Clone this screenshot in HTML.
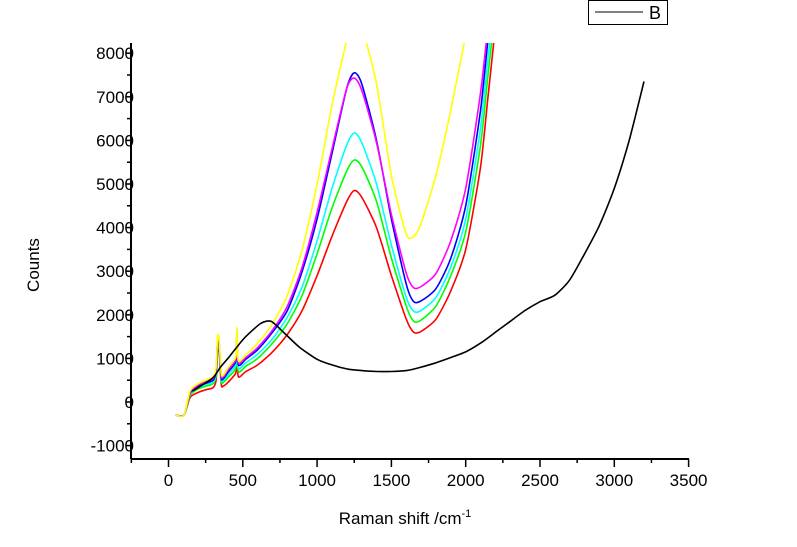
<!DOCTYPE html>
<html><head><meta charset="utf-8"><style>
body{margin:0;background:#fff}
svg{display:block;font-family:"Liberation Sans",Arial,sans-serif}
</style></head><body>
<svg id="chart" width="797" height="547" viewBox="0 0 797 547" xmlns="http://www.w3.org/2000/svg">
<defs><clipPath id="plotclip"><rect x="131" y="43" width="558" height="416"/></clipPath></defs>
<g id="series" clip-path="url(#plotclip)"></g>
<g id="axes"></g>
<text x="39" y="265" font-size="17" text-anchor="middle" transform="rotate(-90 39 265)">Counts</text>
<text x="405" y="524" font-size="17" text-anchor="middle">Raman shift /cm<tspan dy="-7" font-size="11">-1</tspan></text>
<g>
<rect x="588.5" y="0.5" width="79" height="24" fill="#fff" stroke="#000"/>
<line x1="595" y1="12" x2="643" y2="12" stroke="#000"/>
<text x="649" y="19" font-size="18">B</text>
</g>
</svg>
<script>
const xGrid=[50,105,145,200,250,300,320,330,340,355,370,400,440,455,460,470,520,600,700,800,900,1000,1100,1200,1250,1300,1400,1500,1600,1650,1700,1800,1900,2000,2100,2150,2200];
const redY=[-300,-300,100,220,280,330,500,1150,1200,400,370,450,600,700,1100,580,700,850,1150,1550,2100,2900,3800,4600,4850,4700,4000,2900,1900,1600,1620,1900,2550,3500,5400,7000,8600];
const greenY=[-300,-300,150,300,360,420,600,1250,1250,470,450,560,700,820,1300,700,820,1000,1350,1800,2450,3400,4450,5300,5550,5400,4600,3300,2200,1850,1880,2200,2900,3900,5900,7500,9000];
const cyanY=[-300,-300,180,330,400,460,650,1300,1300,520,500,620,780,900,1400,780,900,1100,1450,1950,2650,3700,4900,5900,6170,5950,5000,3600,2400,2080,2100,2400,3100,4200,6300,7900,9300];
const blueY=[-300,-300,200,360,430,500,700,1350,1350,560,540,680,850,970,1500,850,980,1200,1600,2100,3000,4200,5700,7200,7550,7300,6000,4200,2700,2300,2320,2600,3300,4500,6700,8300,9500];
const magentaY=[-300,-300,220,390,460,540,740,1400,1400,600,580,730,900,1020,1550,900,1020,1250,1650,2200,3100,4350,5800,7200,7430,7150,5950,4300,2950,2620,2650,2950,3700,4900,7100,8600,9800];
const yellowY=[-300,-300,250,420,500,580,800,1500,1450,650,620,780,950,1080,1700,950,1080,1350,1800,2450,3500,5000,6800,8300,8800,8600,7300,5200,3850,3800,4100,5200,6700,8400,10000,11000,12000];
const blackX=[160,200,300,350,400,460,520,620,690,780,880,1000,1100,1200,1300,1400,1500,1600,1700,1800,1900,2000,2100,2200,2300,2400,2500,2600,2700,2800,2900,3000,3100,3200];
const blackY=[250,330,560,800,1000,1260,1500,1800,1850,1580,1260,980,850,760,720,700,700,720,800,900,1020,1150,1350,1600,1850,2100,2300,2450,2800,3400,4050,4900,6000,7350];
const xTicks=[0,500,1000,1500,2000,2500,3000,3500];
const yTicks=[-1000,0,1000,2000,3000,4000,5000,6000,7000,8000];
const NS="http://www.w3.org/2000/svg";
function sx(v){return 168.5+v*0.1486;}
function sy(v){return 402-v*0.0436;}
function mk(t,a,parent){const e=document.createElementNS(NS,t);for(const k in a)e.setAttribute(k,a[k]);parent.appendChild(e);return e;}
const sg=document.getElementById('series');
function drawLine(xs,ys,color,name){
  const P=xs.map((x,i)=>[sx(x),sy(ys[i])]);
  let d='M'+P[0][0].toFixed(1)+' '+P[0][1].toFixed(1);
  for(let i=0;i<P.length-1;i++){
    const p0=P[Math.max(0,i-1)],p1=P[i],p2=P[i+1],p3=P[Math.min(P.length-1,i+2)];
    const k=0.12;
    const c1=[p1[0]+(p2[0]-p0[0])*k,p1[1]+(p2[1]-p0[1])*k];
    const c2=[p2[0]-(p3[0]-p1[0])*k,p2[1]-(p3[1]-p1[1])*k];
    d+=' C'+c1[0].toFixed(1)+' '+c1[1].toFixed(1)+' '+c2[0].toFixed(1)+' '+c2[1].toFixed(1)+' '+p2[0].toFixed(1)+' '+p2[1].toFixed(1);
  }
  const p=mk('path',{d:d,fill:'none',stroke:color,'stroke-width':1.6},sg);
  
  
}
drawLine(xGrid,redY,'#ff0000','series-red');
drawLine(xGrid,greenY,'#00ff00','series-green');
drawLine(xGrid,cyanY,'#00ffff','series-cyan');
drawLine(xGrid,blueY,'#0000ff','series-blue');
drawLine(xGrid,magentaY,'#ff00ff','series-magenta');
drawLine(xGrid,yellowY,'#ffff00','series-yellow');
drawLine(blackX,blackY,'#000000','series-b');
const ax=document.getElementById('axes');
const xl=mk('line',{x1:131,y1:459,x2:689,y2:459,stroke:'#000','stroke-width':2},ax);


const yl=mk('line',{x1:131,y1:43,x2:131,y2:459,stroke:'#000','stroke-width':2},ax);


for(let v=-250;v<=3500;v+=250){
  const major=v%500===0;
  mk('line',{x1:sx(v),y1:459,x2:sx(v),y2:459+(major?8:4),stroke:'#000','stroke-width':1.5},ax);
}
xTicks.forEach(v=>{
  const t=mk('text',{x:sx(v),y:486,'font-size':17,'text-anchor':'middle'},ax);
  t.textContent=v;
  
  
});
for(let v=-1000;v<=8000;v+=500){
  const major=v%1000===0;
  mk('line',{x1:131,y1:sy(v),x2:131-(major?5:4),y2:sy(v),stroke:'#000','stroke-width':1.5},ax);
}
yTicks.forEach(v=>{
  const t=mk('text',{x:134,y:sy(v)+6,'font-size':17,'text-anchor':'end'},ax);
  t.textContent=v;
  
  
});
</script>
</body></html>
